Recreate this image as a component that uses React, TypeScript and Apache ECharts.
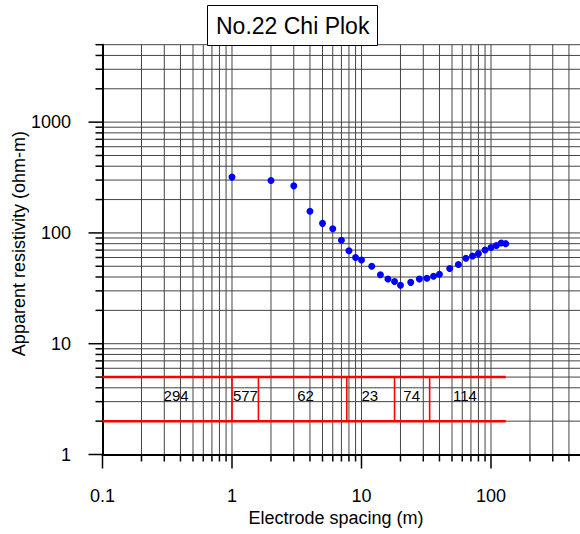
import React, { useEffect, useRef } from 'react';
import * as echarts from 'echarts';

// ---- measured data ----
const SPACING = [1, 2, 3, 4, 5, 6, 7, 8, 9, 10, 12, 14, 16, 18, 20, 24, 28, 32, 36, 40, 48, 56, 64, 72, 80, 90, 100, 110, 120, 130];
const RESISTIVITY = [319, 297, 266, 157, 122, 109, 86, 69, 60, 57, 50, 42, 38.4, 36.4, 33.7, 35.8, 38.4, 39, 40.6, 42.3, 47.7, 51.8, 59, 62, 65, 70, 74, 77, 81, 80];

// ---- layered model ----
const LAYER_RESISTIVITY = [294, 577, 62, 23, 74, 114];
const LAYER_BOUNDARIES = [1.0, 1.6, 7.7, 18, 33.6];
const LAYER_LABEL_X = [0.37, 1.27, 3.7, 11.6, 24.4, 63];
const LAYER_LABEL_Y = 3.43;
const MODEL_X_START = 0.1;
const MODEL_X_END = 130;
const MODEL_TOP = 5;
const MODEL_BOTTOM = 2;

// ---- axes ----
const X_MIN = 0.1;
const X_MAX = 500;
const Y_MIN = 1;
const Y_MAX = 5000;
const X_TICK_VALUES = [0.1, 1, 10, 100];
const X_TICK_LABELS = ['0.1', '1', '10', '100'];
const Y_TICK_VALUES = [1, 10, 100, 1000];
const Y_TICK_LABELS = ['1', '10', '100', '1000'];
const MULTIPLIERS = [1, 2, 3, 4, 5, 6, 7, 8, 9];

const TITLE = 'No.22 Chi Plok';
const X_NAME = 'Electrode spacing (m)';
const Y_NAME = 'Apparent resistivity (ohm-m)';

const FONT = '"Liberation Sans", Arial, Helvetica, sans-serif';

function logGrid(decades: number[], max: number): number[] {
  const out: number[] = [];
  decades.forEach((d) => {
    MULTIPLIERS.forEach((m) => {
      const v = m * d;
      if (v <= max * 1.0000001) out.push(v);
    });
  });
  return out;
}

const X_GRID = logGrid(X_TICK_VALUES, X_MAX);
const Y_GRID = logGrid(Y_TICK_VALUES, Y_MAX);

function isDecade(v: number) {
  const l = Math.log10(v);
  return Math.abs(l - Math.round(l)) < 1e-9;
}

function labelFor(values: number[], labels: string[]) {
  return (v: number) => {
    const i = values.findIndex((t) => Math.abs(Math.log10(v) - Math.log10(t)) < 1e-6);
    return i >= 0 ? labels[i] : '';
  };
}

const GRID_STYLE = { stroke: '#444444', lineWidth: 1 };
const TICK_STYLE = { stroke: '#000000', lineWidth: 1.5 };

function renderFrame(params: any, api: any) {
  const bl = api.coord([X_MIN, Y_MIN]);
  const tr = api.coord([X_MAX, Y_MAX]);
  const left = bl[0];
  const bottom = bl[1];
  const right = tr[0];
  const top = tr[1];
  const children: any[] = [];
  X_GRID.forEach((v) => {
    const px = api.coord([v, Y_MIN])[0];
    if (v > X_MIN * 1.0001) {
      children.push({ type: 'line', shape: { x1: px, y1: top, x2: px, y2: bottom }, style: GRID_STYLE });
    }
    const len = isDecade(v) ? 14 : 7;
    children.push({ type: 'line', shape: { x1: px, y1: bottom, x2: px, y2: bottom + len }, style: TICK_STYLE });
  });
  Y_GRID.forEach((v) => {
    const py = api.coord([X_MIN, v])[1];
    if (v > Y_MIN * 1.0001) {
      children.push({ type: 'line', shape: { x1: left, y1: py, x2: right, y2: py }, style: GRID_STYLE });
    }
    const len = isDecade(v) ? 14 : 7;
    children.push({ type: 'line', shape: { x1: left - len, y1: py, x2: left, y2: py }, style: TICK_STYLE });
  });
  return { type: 'group', children };
}

function renderModel(params: any, api: any) {
  const children: any[] = [];
  const red = '#ff0000';
  [MODEL_TOP, MODEL_BOTTOM].forEach((yv) => {
    const a = api.coord([MODEL_X_START, yv]);
    const b = api.coord([MODEL_X_END, yv]);
    children.push({ type: 'line', shape: { x1: a[0], y1: a[1], x2: b[0], y2: b[1] }, style: { stroke: red, lineWidth: 2.5 } });
  });
  LAYER_BOUNDARIES.forEach((xv) => {
    const a = api.coord([xv, MODEL_TOP]);
    const b = api.coord([xv, MODEL_BOTTOM]);
    children.push({ type: 'line', shape: { x1: a[0], y1: a[1], x2: b[0], y2: b[1] }, style: { stroke: red, lineWidth: 1.6 } });
  });
  LAYER_RESISTIVITY.forEach((r, i) => {
    const p = api.coord([LAYER_LABEL_X[i], LAYER_LABEL_Y]);
    children.push({
      type: 'text',
      x: p[0],
      y: p[1],
      style: {
        text: String(r),
        fill: '#000',
        fontSize: 15,
        fontFamily: FONT,
        align: 'center',
        verticalAlign: 'middle',
      },
    });
  });
  return { type: 'group', children };
}

export default function App() {
  const ref = useRef<HTMLDivElement>(null);
  useEffect(() => {
    if (!ref.current) return;
    const chart = echarts.init(ref.current, undefined, { renderer: 'svg' });
    chart.setOption({
      animation: false,
      backgroundColor: '#ffffff',
      title: {
        text: TITLE,
        left: 207,
        top: 5,
        padding: [9, 8, 9, 9],
        borderColor: '#000',
        borderWidth: 1,
        backgroundColor: '#fff',
        textStyle: { fontSize: 23, fontWeight: 'normal', color: '#000', fontFamily: FONT },
      },
      grid: { left: 102.5, top: 44.7, width: 479, height: 409.8, containLabel: false, outerBoundsMode: 'none' },
      xAxis: {
        type: 'log',
        logBase: 10,
        min: X_MIN,
        max: X_MAX,
        z: 3,
        axisLine: { show: true, onZero: false, lineStyle: { color: '#000', width: 2 } },
        axisTick: { show: false },
        splitLine: { show: false },
        axisLabel: {
          formatter: labelFor(X_TICK_VALUES, X_TICK_LABELS),
          margin: 32.5,
          fontSize: 18,
          color: '#000',
          fontFamily: FONT,
          hideOverlap: false,
        },
        name: X_NAME,
        nameLocation: 'middle',
        nameGap: 54.5,
        nameMoveOverlap: false,
        nameTextStyle: { fontSize: 18, color: '#000', fontFamily: FONT, padding: [0, 12, 0, 0] },
      },
      yAxis: {
        type: 'log',
        logBase: 10,
        min: Y_MIN,
        max: Y_MAX,
        z: 3,
        axisLine: { show: true, onZero: false, lineStyle: { color: '#000', width: 2 } },
        axisTick: { show: false },
        splitLine: { show: false },
        axisLabel: {
          formatter: labelFor(Y_TICK_VALUES, Y_TICK_LABELS),
          margin: 31.5,
          fontSize: 18,
          color: '#000',
          fontFamily: FONT,
          hideOverlap: false,
        },
        name: Y_NAME,
        nameLocation: 'middle',
        nameGap: 74.5,
        nameMoveOverlap: false,
        nameTextStyle: { fontSize: 18, color: '#000', fontFamily: FONT, padding: [0, 0, 0, 12] },
      },
      series: [
        {
          type: 'custom',
          name: 'frame',
          silent: true,
          clip: false,
          z: 1,
          data: [[1, 10]],
          encode: { x: 0, y: 1 },
          renderItem: renderFrame,
        },
        {
          type: 'custom',
          name: 'model',
          silent: true,
          clip: false,
          z: 4,
          data: [[1, 3]],
          encode: { x: 0, y: 1 },
          renderItem: renderModel,
        },
        {
          type: 'scatter',
          name: 'data',
          z: 5,
          symbol: 'circle',
          symbolSize: 7,
          itemStyle: { color: '#0000ff', opacity: 1 },
          data: SPACING.map((x, i) => [x, RESISTIVITY[i]]),
        },
      ],
    });
    return () => chart.dispose();
  }, []);
  return <div ref={ref} style={{ position: 'fixed', left: 0, top: 0, width: 580, height: 534 }} />;
}
